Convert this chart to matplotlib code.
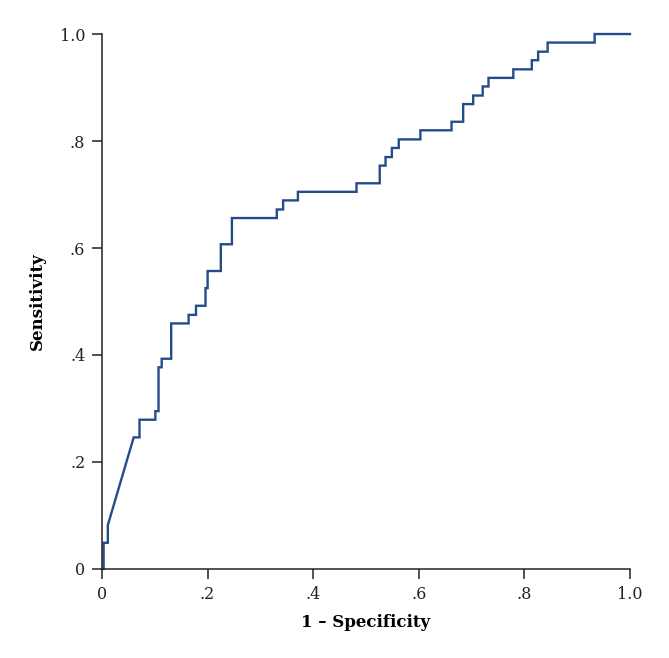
"""ROC curve: sensitivity vs 1 - specificity (step curve)."""
import matplotlib
matplotlib.use("Agg")
import matplotlib.pyplot as plt

# ROC vertices (joined by straight segments)
fpr = [0.0, 0.003, 0.003, 0.011, 0.011, 0.060, 0.071, 0.071, 0.101, 0.101,
       0.107, 0.107, 0.113, 0.113, 0.131, 0.131, 0.164, 0.164, 0.178, 0.178,
       0.196, 0.196, 0.200, 0.200, 0.225, 0.225, 0.246, 0.246, 0.331, 0.331,
       0.343, 0.343, 0.371, 0.371, 0.482, 0.482, 0.526, 0.526, 0.537, 0.537,
       0.549, 0.549, 0.562, 0.562, 0.603, 0.603, 0.662, 0.662, 0.684, 0.684,
       0.703, 0.703, 0.721, 0.721, 0.732, 0.732, 0.779, 0.779, 0.814, 0.814,
       0.826, 0.826, 0.844, 0.844, 0.933, 0.933, 1.0]
tpr = [0.0, 0.0, 0.049, 0.049, 0.082, 0.246, 0.246, 0.279, 0.279, 0.295,
       0.295, 0.377, 0.377, 0.393, 0.393, 0.459, 0.459, 0.475, 0.475, 0.492,
       0.492, 0.525, 0.525, 0.557, 0.557, 0.607, 0.607, 0.656, 0.656, 0.672,
       0.672, 0.689, 0.689, 0.705, 0.705, 0.721, 0.721, 0.754, 0.754, 0.770,
       0.770, 0.787, 0.787, 0.803, 0.803, 0.820, 0.820, 0.836, 0.836, 0.869,
       0.869, 0.885, 0.885, 0.902, 0.902, 0.918, 0.918, 0.934, 0.934, 0.951,
       0.951, 0.967, 0.967, 0.984, 0.984, 1.0, 1.0]

ticks = [0, 0.2, 0.4, 0.6, 0.8, 1.0]
tick_labels = ["0", ".2", ".4", ".6", ".8", "1.0"]

plt.rcParams["font.family"] = ["DejaVu Serif"]

fig = plt.figure(figsize=(6.69, 6.58), dpi=100)
ax = fig.add_axes([0.1525, 0.1353, 0.7892, 0.813])
ax.plot(fpr, tpr, color="#264b8b", lw=1.7, solid_joinstyle="miter", clip_on=False)

ax.set_xlim(0, 1)
ax.set_ylim(0, 1)
ax.set_xticks(ticks, tick_labels)
ax.set_yticks(ticks, tick_labels)
ax.tick_params(direction="out", length=7, width=1.1, color="#222222",
               labelsize=11.5, pad=5, labelcolor="#222222")
for side in ("top", "right"):
    ax.spines[side].set_visible(False)
for side in ("left", "bottom"):
    ax.spines[side].set_linewidth(1.1)
    ax.spines[side].set_color("#222222")

ax.set_xlabel("1 – Specificity", fontsize=12, fontweight="bold", labelpad=8)
ax.set_ylabel("Sensitivity", fontsize=12, fontweight="bold", labelpad=10)

fig.savefig("out.png", dpi=100)
